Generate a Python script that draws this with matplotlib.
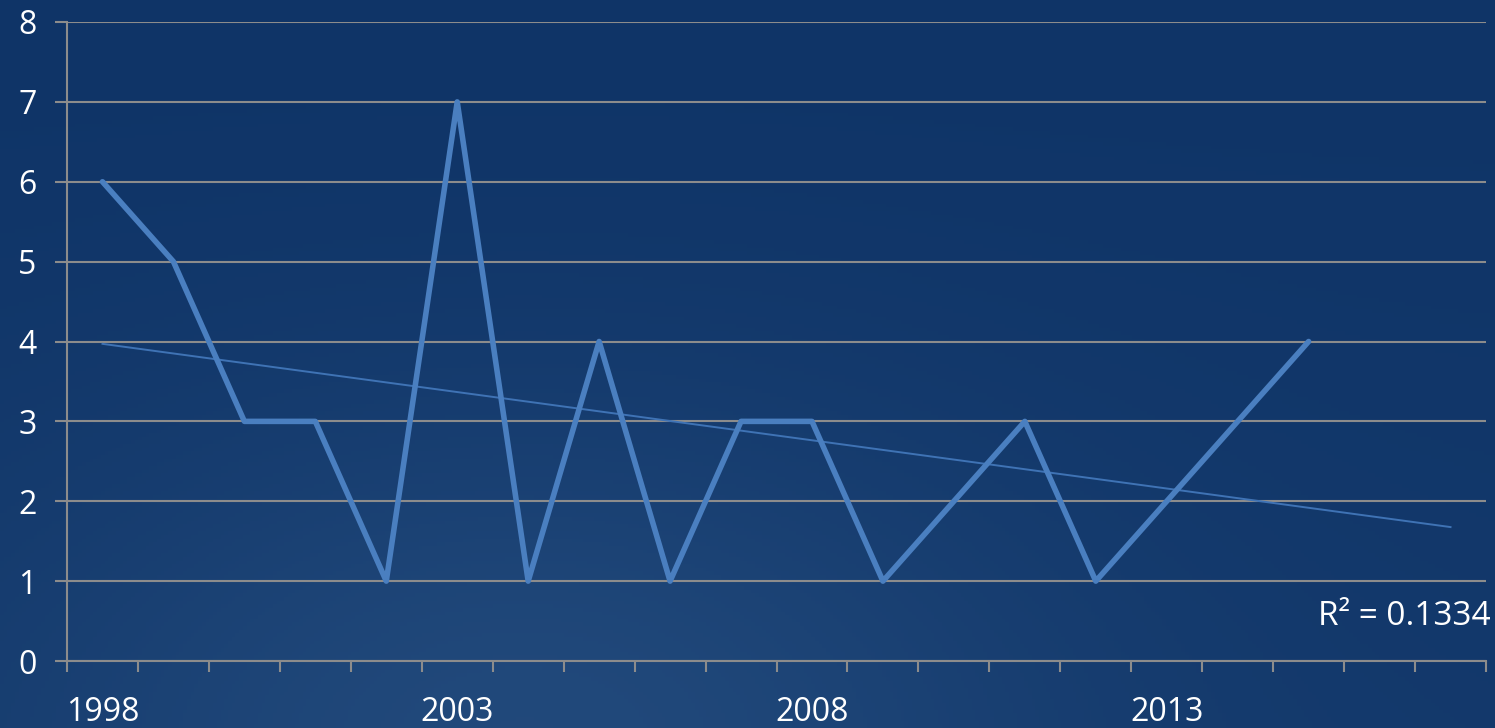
import numpy as np
import matplotlib.pyplot as plt
from matplotlib.ticker import FixedLocator, FixedFormatter

plt.rcParams['font.family'] = ['Open Sans', 'DejaVu Sans']

# category axis: 1998..2017, data up to 2015
years = list(range(1998, 2018))
values = [6, 5, 3, 3, 1, 7, 1, 4, 1, 3, 3, 1, 2, 3, 1, 2, 3, 4]
label_years = [1998, 2003, 2008, 2013]

fig = plt.figure(figsize=(14.95, 7.28), dpi=100)

# background: dark blue, slightly lighter toward the bottom middle
bg = fig.add_axes([0, 0, 1, 1], zorder=-10)
h, w = 200, 400
yy, xx = np.mgrid[0:1:h * 1j, 0:1:w * 1j]
glow = np.exp(-((xx - 0.35) ** 2) / 0.12 - ((yy - 1.0) ** 2) / 0.2)
top = np.array([0x0f, 0x34, 0x67]) / 255
light = np.array([0x22, 0x4a, 0x7c]) / 255
t = 0.2 * yy + 0.75 * glow
img = top[None, None, :] * (1 - t[..., None]) + light[None, None, :] * t[..., None]
bg.imshow(np.clip(img, 0, 1), aspect='auto', extent=[0, 1, 0, 1], origin='upper')
bg.axis('off')

ax = fig.add_axes([67 / 1495, 1 - 661 / 728, (1486 - 67) / 1495, (661 - 22) / 728])
ax.patch.set_alpha(0)

x = np.arange(len(values))
ax.plot(x, values, color='#4a7fc0', linewidth=4.0, solid_joinstyle='round',
        solid_capstyle='round', zorder=3)

# linear trend, extended over the full category range
slope, intercept = np.polyfit(x, values, 1)
xt = np.array([0, len(years) - 1])
ax.plot(xt, slope * xt + intercept, color='#3f73b5', linewidth=1.4, zorder=2)
pred = slope * x + intercept
r2 = 1 - np.sum((np.array(values) - pred) ** 2) / np.sum((np.array(values) - np.mean(values)) ** 2)
ax.text(1.003, 0.07, f'R² = {r2:.4f}', transform=ax.transAxes, ha='right', va='center',
        color='white', fontsize=24, zorder=4)

ax.set_xlim(-0.5, len(years) - 0.5)
ax.set_ylim(0, 8)
ax.set_yticks(range(0, 9))
ax.grid(axis='y', color='#8c8c8c', linewidth=1.5)
ax.set_axisbelow(True)

label_pos = [years.index(yv) for yv in label_years]
ax.xaxis.set_major_locator(FixedLocator(label_pos))
ax.xaxis.set_major_formatter(FixedFormatter([str(yv) for yv in label_years]))
ax.xaxis.set_minor_locator(FixedLocator(np.arange(-0.5, len(years), 1.0)))
ax.tick_params(axis='x', which='major', length=0, pad=25, labelsize=23, labelcolor='white')
ax.tick_params(axis='x', which='minor', length=8, width=1.5, color='#8c8c8c', direction='out')
ax.tick_params(axis='y', length=9, width=1.5, color='#8c8c8c', pad=13, labelsize=23,
               labelcolor='white')

for s in ['top', 'right']:
    ax.spines[s].set_visible(False)
for s in ['left', 'bottom']:
    ax.spines[s].set_color('#8c8c8c')
    ax.spines[s].set_linewidth(1.5)

fig.savefig('out.png', dpi=100)
